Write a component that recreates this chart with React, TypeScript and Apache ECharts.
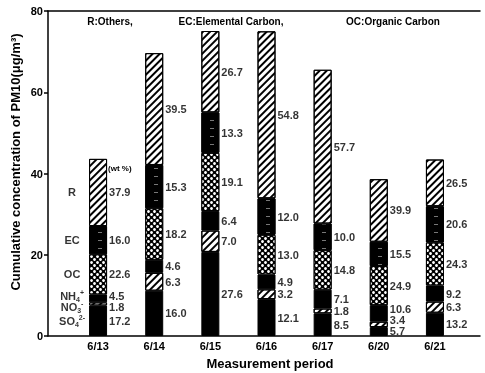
import React, { useEffect, useRef } from "react";
import * as echarts from "echarts";

const categories = ["6/13", "6/14", "6/15", "6/16", "6/17", "6/20", "6/21"];
const totals = [43.6, 69.7, 75.0, 75.0, 65.6, 38.6, 43.4];
// weight percentages printed beside each bar
const so4Pct = [17.2, 16.0, 27.6, 12.1, 8.5, 5.7, 13.2];
const no3Pct = [1.8, 6.3, 7.0, 3.2, 1.8, 3.4, 6.3];
const nh4Pct = [4.5, 4.6, 6.4, 4.9, 7.1, 10.6, 9.2];
const ocPct = [22.6, 18.2, 19.1, 13.0, 14.8, 24.9, 24.3];
const ecPct = [16.0, 15.3, 13.3, 12.0, 10.0, 15.5, 20.6];
const rPct = [37.9, 39.5, 26.7, 54.8, 57.7, 39.9, 26.5];
const yTicks = [0, 20, 40, 60, 80];

const components = [so4Pct, no3Pct, nh4Pct, ocPct, ecPct, rPct];
const compNames = ["SO4", "NO3", "NH4", "OC", "EC", "R"];
const leftLabels = [
  "SO{sub|4}{sup|2-}",
  "NO{sub|3}{sup|-}",
  "NH{sub|4}{sup|+}",
  "OC",
  "EC",
  "R",
];

const FONT = "'Liberation Sans', Arial, Helvetica, sans-serif";

const hatch = {
  symbol: "rect",
  symbolSize: 1,
  color: "#000",
  backgroundColor: "#fff",
  dashArrayX: [1, 0],
  dashArrayY: [2, 2.6],
  rotation: -Math.PI / 4,
};
const dots = {
  symbol: "circle",
  symbolSize: 0.95,
  color: "#fff",
  backgroundColor: "#000",
  dashArrayX: [[3, 3], [0, 3, 3, 0]],
  dashArrayY: [3, 0],
  rotation: 0,
};
const ecDecal = {
  symbol: "rect",
  symbolSize: 1,
  color: "#777",
  backgroundColor: "#000",
  dashArrayX: [4, 10],
  dashArrayY: [1, 7],
  rotation: 0,
};

const styles: any[] = [
  { color: "#000" },
  { color: "#fff", decal: hatch },
  { color: "#000" },
  { color: "#000", decal: dots },
  { color: "#000", decal: ecDecal },
  { color: "#fff", decal: hatch },
];

// segment masses
const segValues = components.map((pct) => pct.map((p, i) => (totals[i] * p) / 100));

// label positions (data units): segment centres, pushed apart to avoid overlap
function labelPositions(i: number): number[] {
  let cum = 0;
  const ys: number[] = [];
  segValues.forEach((s) => {
    ys.push(cum + s[i] / 2);
    cum += s[i];
  });
  const gap = 2.7;
  for (let it = 0; it < 100; it++) {
    for (let k = 1; k < ys.length; k++) {
      const d = ys[k] - ys[k - 1];
      if (d < gap) {
        const m = (gap - d) / 2;
        ys[k - 1] -= m;
        ys[k] += m;
      }
    }
    if (ys[0] < 1.3) ys[0] = 1.3;
  }
  return ys;
}

export default function App() {
  const ref = useRef<HTMLDivElement>(null);
  useEffect(() => {
    if (!ref.current) return;
    const chart = echarts.init(ref.current, null, { renderer: "svg" });

    const valueLabelData: any[] = [];
    const leftLabelData: any[] = [];
    categories.forEach((_, i) => {
      const ys = labelPositions(i);
      ys.forEach((y, k) => {
        valueLabelData.push([i, y, components[k][i]]);
        if (i === 0) leftLabelData.push([i, y, k]);
      });
    });

    const barSeries = compNames.map((name, k) => ({
      name,
      type: "bar",
      stack: "pm",
      xAxisIndex: 0,
      yAxisIndex: 0,
      barWidth: 18,
      data: segValues[k],
      itemStyle: { ...styles[k], borderColor: "#000", borderWidth: 1 },
      silent: true,
    }));

    const option: any = {
      animation: false,
      grid: [
        { left: 70, right: 22, top: 11, bottom: 37 },
        { left: 48, right: 5, top: 11, bottom: 37 },
      ],
      xAxis: [
        {
          type: "category",
          gridIndex: 0,
          data: categories,
          axisLine: { show: false },
          axisTick: { show: false },
          axisLabel: {
            color: "#000",
            fontFamily: FONT,
            fontWeight: "bold",
            fontSize: 11,
            margin: 4,
          },
        },
        {
          type: "value",
          gridIndex: 1,
          min: 0,
          max: 1,
          position: "bottom",
          axisLine: { show: true, onZero: false, lineStyle: { color: "#000", width: 1.5 } },
          axisTick: { show: false },
          axisLabel: { show: false },
          splitLine: { show: false },
        },
        {
          type: "value",
          gridIndex: 1,
          min: 0,
          max: 1,
          position: "top",
          axisLine: { show: true, onZero: false, lineStyle: { color: "#000", width: 1.5 } },
          axisTick: { show: false },
          axisLabel: { show: false },
          splitLine: { show: false },
        },
      ],
      yAxis: [
        {
          type: "value",
          gridIndex: 0,
          min: 0,
          max: 80,
          show: false,
        },
        {
          type: "value",
          gridIndex: 1,
          min: yTicks[0],
          max: yTicks[yTicks.length - 1],
          interval: 20,
          axisLine: { show: true, onZero: false, lineStyle: { color: "#000", width: 1.5 } },
          axisTick: { show: true, length: 4, lineStyle: { color: "#000", width: 1.5 } },
          axisLabel: {
            color: "#000",
            fontFamily: FONT,
            fontWeight: "bold",
            fontSize: 11,
            margin: 5,
          },
          splitLine: { show: false },
        },
      ],
      series: [
        ...barSeries,
        {
          type: "scatter",
          xAxisIndex: 0,
          yAxisIndex: 0,
          symbolSize: 0,
          silent: true,
          data: valueLabelData,
          label: {
            show: true,
            position: "right",
            distance: 11,
            color: "#000",
            fontFamily: FONT,
            fontWeight: "bold",
            fontSize: 11,
            formatter: (p: any) => Number(p.value[2]).toFixed(1),
          },
        },
        {
          type: "scatter",
          xAxisIndex: 0,
          yAxisIndex: 0,
          symbolSize: 0,
          silent: true,
          data: leftLabelData,
          label: {
            show: true,
            position: "inside",
            offset: [-26, 0],
            align: "center",
            color: "#000",
            fontFamily: FONT,
            fontWeight: "bold",
            fontSize: 11,
            lineHeight: 14,
            formatter: (p: any) => leftLabels[p.value[2]],
            rich: {
              sub: {
                fontSize: 7,
                fontWeight: "bold",
                fontFamily: FONT,
                color: "#000",
                verticalAlign: "bottom",
                lineHeight: 14,
                padding: [6, 0, 0, 0],
              },
              sup: {
                fontSize: 7,
                fontWeight: "bold",
                fontFamily: FONT,
                color: "#000",
                verticalAlign: "top",
                lineHeight: 14,
                padding: [0, 0, 6, 0],
              },
            },
          },
        },
      ],
      graphic: [
        {
          type: "text",
          x: 15,
          y: 162,
          rotation: Math.PI / 2,
          style: {
            text: "Cumulative concentration of PM10(μg/m³)",
            font: `bold 13px ${FONT}`,
            fill: "#000",
            textAlign: "center",
            textVerticalAlign: "middle",
          },
        },
        {
          type: "text",
          x: 270,
          y: 363,
          style: {
            text: "Measurement period",
            font: `bold 13px ${FONT}`,
            fill: "#000",
            textAlign: "center",
            textVerticalAlign: "middle",
          },
        },
        {
          type: "text",
          x: 110,
          y: 21,
          style: { text: "R:Others,", font: `bold 10px ${FONT}`, fill: "#000", textAlign: "center", textVerticalAlign: "middle" },
        },
        {
          type: "text",
          x: 231,
          y: 21,
          style: { text: "EC:Elemental Carbon,", font: `bold 10px ${FONT}`, fill: "#000", textAlign: "center", textVerticalAlign: "middle" },
        },
        {
          type: "text",
          x: 393,
          y: 21,
          style: { text: "OC:Organic Carbon", font: `bold 10px ${FONT}`, fill: "#000", textAlign: "center", textVerticalAlign: "middle" },
        },
        {
          type: "text",
          x: 108,
          y: 168,
          style: { text: "(wt %)", font: `bold 8px ${FONT}`, fill: "#000", textAlign: "left", textVerticalAlign: "middle" },
        },
      ],
    };
    chart.setOption(option);
    return () => chart.dispose();
  }, []);
  return (
    <div
      ref={ref}
      style={{ position: "fixed", left: 0, top: 0, width: 485, height: 373 }}
    />
  );
}
